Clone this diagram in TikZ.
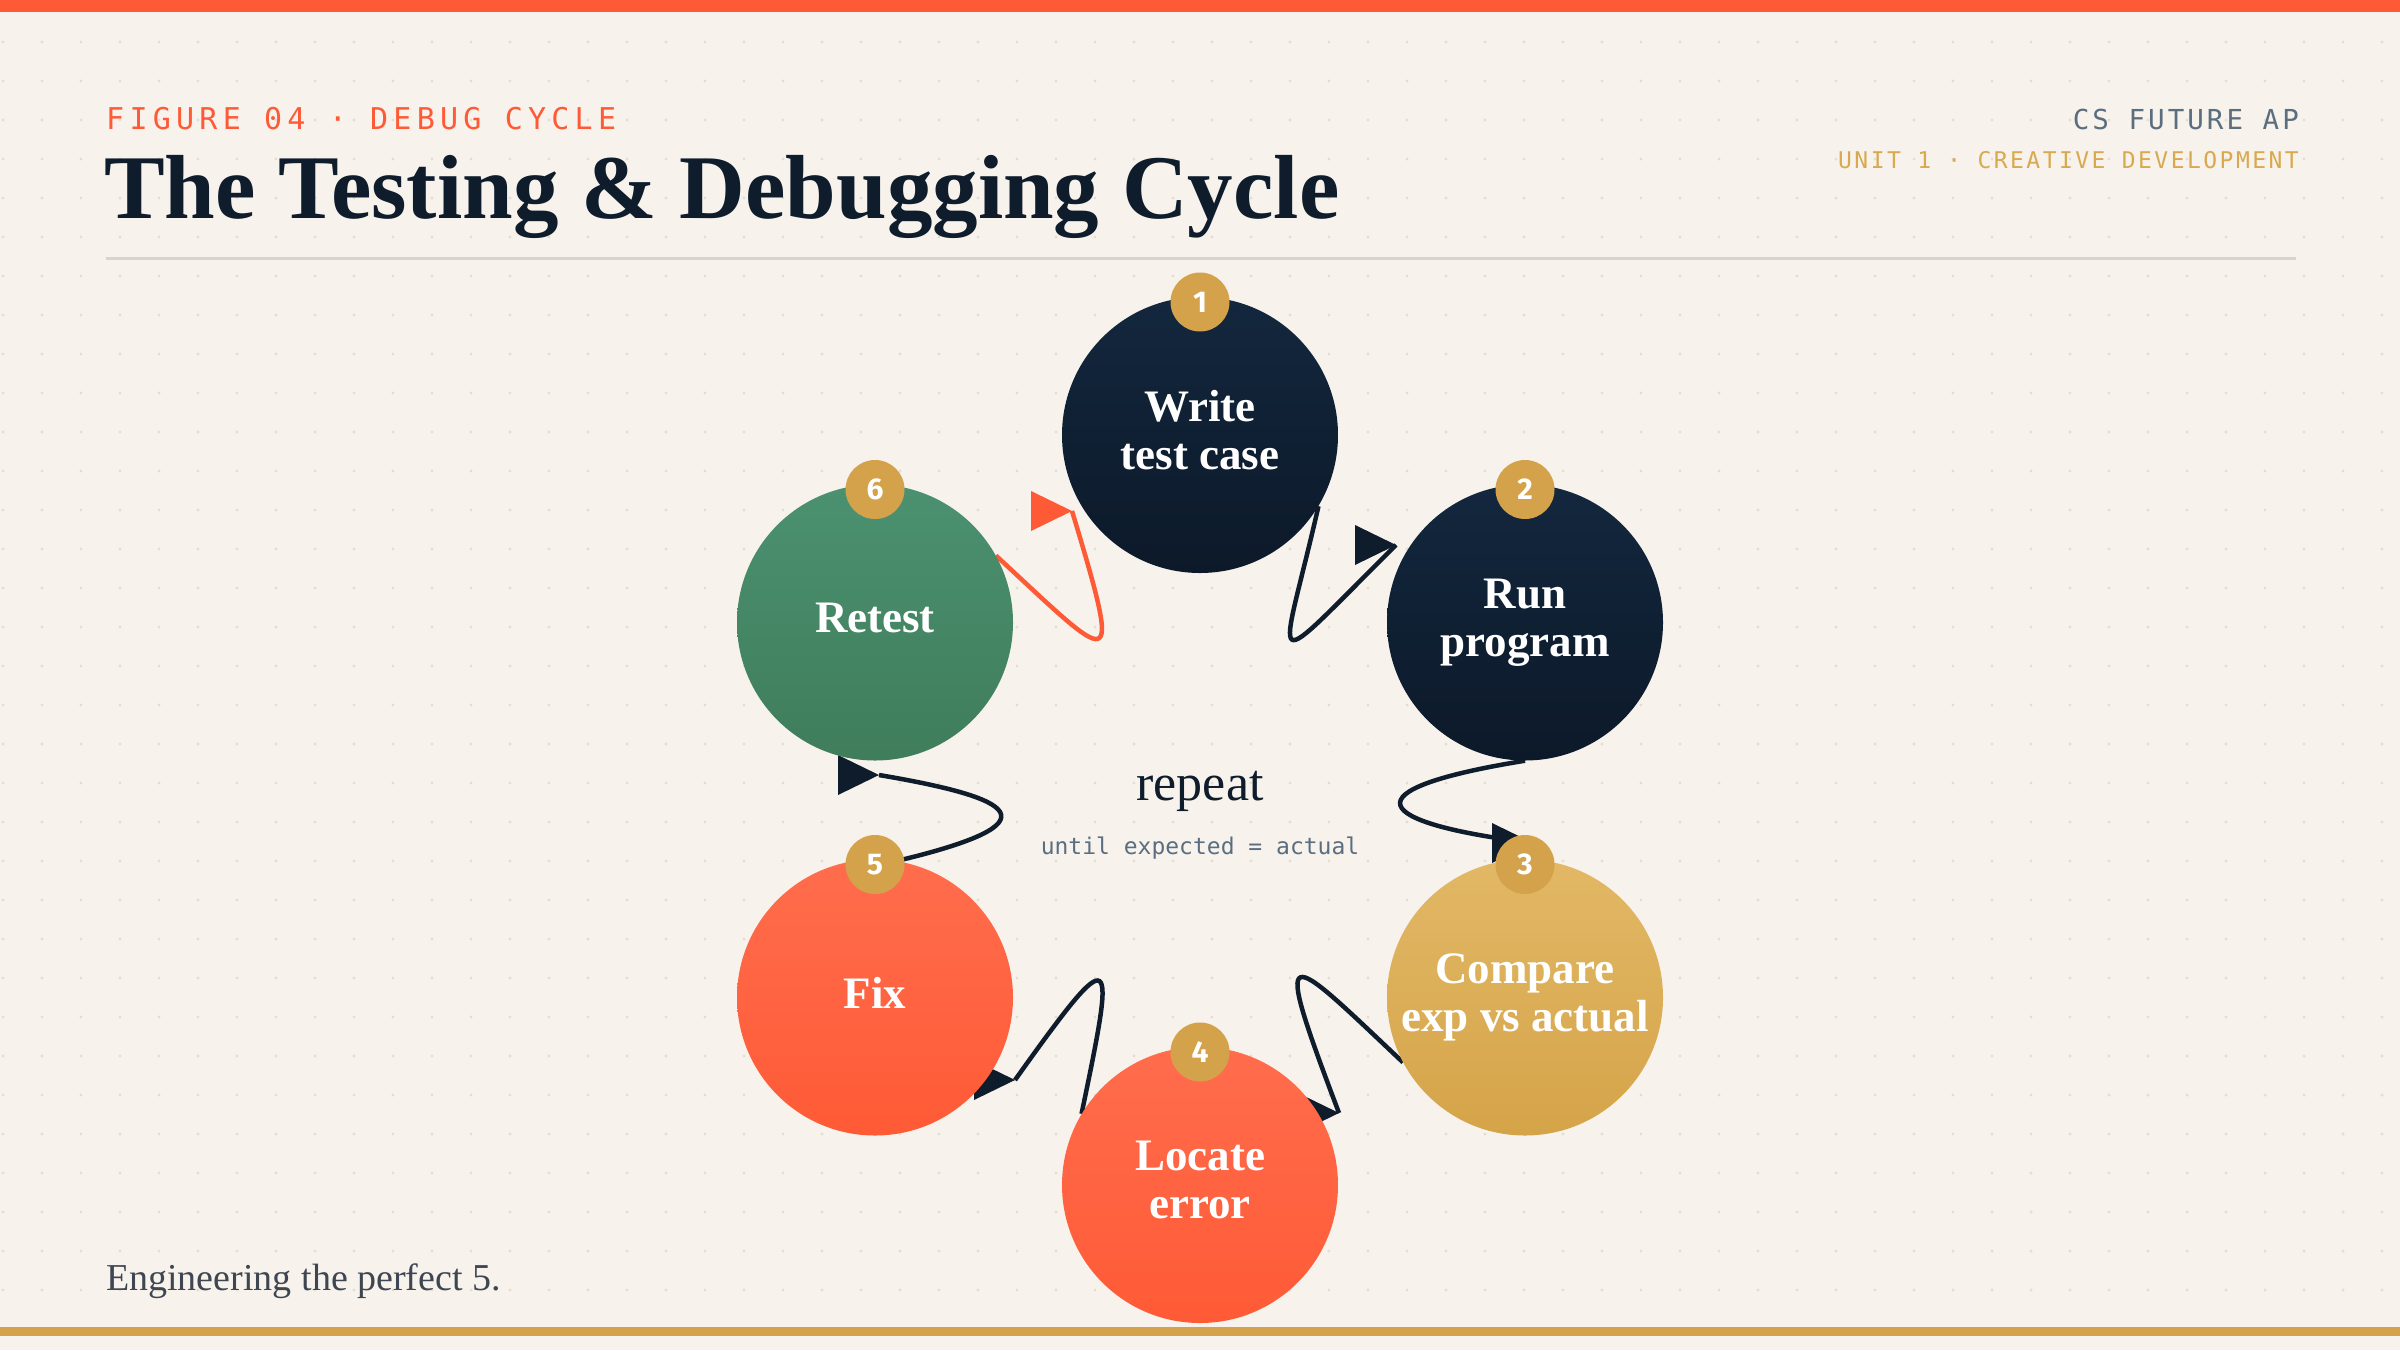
\documentclass[tikz,border=0pt]{standalone}
\usepackage{fontspec}
\setmainfont{Liberation Serif}
\newfontfamily\figfont[LetterSpace=17.5]{DejaVu Sans Mono}
\newfontfamily\csfont[LetterSpace=11]{DejaVu Sans Mono}
\newfontfamily\unitfont[LetterSpace=10.7]{DejaVu Sans Mono}
\newfontfamily\untilfont{DejaVu Sans Mono}
\newfontfamily\badgefont{Fira Sans}
\usetikzlibrary{calc}
\definecolor{bg}{HTML}{F7F2EB}
\definecolor{dotc}{HTML}{E4DDD2}
\definecolor{coral}{HTML}{FF5A36}
\definecolor{gold}{HTML}{D4A24A}
\definecolor{unitgold}{HTML}{D9A94F}
\definecolor{navy}{HTML}{0E1C2C}
\definecolor{slate}{HTML}{5A6E80}
\definecolor{rulec}{HTML}{D9D5CE}
\definecolor{footc}{HTML}{3E4652}
\definecolor{darktop}{HTML}{13273E}
\definecolor{darkbot}{HTML}{0C1929}
\definecolor{greentop}{HTML}{4B9170}
\definecolor{greenbot}{HTML}{3F7D5B}
\definecolor{goldtop}{HTML}{E2B866}
\definecolor{goldbot}{HTML}{D5A449}
\definecolor{coraltop}{HTML}{FF6D4D}
\definecolor{coralbot}{HTML}{FF5A36}
\pgfdeclarelayer{backlayer}
\pgfdeclarelayer{linklayer}
\pgfsetlayers{backlayer,linklayer,main}
\tikzset{
  stepnode/.style={circle, minimum size=276pt, inner sep=0pt, text=white,
    font=\bfseries\fontsize{45}{48}\selectfont, align=center},
  darkstep/.style={stepnode, top color=darktop, bottom color=darkbot},
  greenstep/.style={stepnode, top color=greentop, bottom color=greenbot},
  goldstep/.style={stepnode, top color=goldtop, bottom color=goldbot},
  coralstep/.style={stepnode, top color=coraltop, bottom color=coralbot},
  badge/.style={circle, fill=gold, minimum size=59pt, inner sep=0pt, text=white,
    font=\badgefont\bfseries\fontsize{30}{30}\selectfont},
  link/.style={draw=navy, line width=4.5pt},
  hotlink/.style={draw=coral, line width=4.5pt},
  tip/.style={fill=navy},
  hottip/.style={fill=coral},
  plain/.style={inner sep=0pt}
}
\begin{document}
\begin{tikzpicture}[x=1pt,y=-1pt]
\useasboundingbox (0,0) rectangle (2400,1350);
\begin{pgfonlayer}{backlayer}
\fill[bg] (0,0) rectangle (2400,1350);
\fill[dotc] \foreach \i in {0,...,61}{\foreach \j in {0,...,34}{(3+39*\i,3+39*\j) circle[radius=1.7]}};
\fill[coral] (0,0) rectangle (2400,12);
\fill[gold] (0,1327) rectangle (2400,1336);
\draw[rulec, line width=3pt] (106,258) -- (2296,258);
\end{pgfonlayer}

% header
\node[plain, anchor=base west, text=coral, font=\figfont\fontsize{30}{30}\selectfont] (fig) at (106,129) {FIGURE 04 · DEBUG CYCLE};
\node[plain, anchor=base west, text=navy, font=\bfseries\fontsize{91}{100}\selectfont] (title) at (104,218) {The Testing \& Debugging Cycle};
\node[plain, anchor=base east, text=slate, font=\csfont\fontsize{27.5}{30}\selectfont] (cs) at (2299,129) {CS FUTURE AP};
\node[plain, anchor=base east, text=unitgold, font=\unitfont\fontsize{23}{26}\selectfont] (unit) at (2299,168) {UNIT 1 · CREATIVE DEVELOPMENT};
\node[plain, anchor=base west, text=footc, font=\fontsize{38}{40}\selectfont] (foot) at (106,1290) {Engineering the perfect 5.};

% center
\node[plain, anchor=base, text=navy, font=\fontsize{52}{56}\selectfont] (rep) at (1200,800) {repeat};
\node[plain, anchor=base, text=slate, font=\untilfont\fontsize{23}{26}\selectfont] (until) at (1200,854) {until expected = actual};

% steps
\node[darkstep] (c1) at (1200,435) {Write\\test case\vphantom{g}};
\node[darkstep] (c2) at (1525,622.5) {Run\\program};
\node[goldstep] (c3) at (1525,997.5) {Compare\\exp vs actual};
\node[coralstep] (c4) at (1200,1185) {Locate\\error\vphantom{g}};
\node[coralstep] (c5) at (875,997.5) {Fix\vphantom{g}};
\node[greenstep] (c6) at (875,622.5) {Retest\vphantom{g}};

% badges
\node[badge] (b1) at ($(c1)+(0,-133)$) {1};
\node[badge] (b2) at ($(c2)+(0,-133)$) {2};
\node[badge] (b3) at ($(c3)+(0,-133)$) {3};
\node[badge] (b4) at ($(c4)+(0,-133)$) {4};
\node[badge] (b5) at ($(c5)+(0,-133)$) {5};
\node[badge] (b6) at ($(c6)+(0,-133)$) {6};

% connector ends
\coordinate (e12) at ($(c2)+(-129,-77.5)$);
\coordinate (e23) at ($(c3)+(8,-154.5)$);
\coordinate (e34) at ($(c4)+(139,-72)$);
\coordinate (e45) at ($(c5)+(140,82.5)$);
\coordinate (e56) at ($(c6)+(4,152.5)$);
\coordinate (e61) at ($(c1)+(-128,76)$);

\begin{pgfonlayer}{linklayer}
\draw[link] (c1.-31) .. controls (1280,675) and (1260,680) .. (e12);
\fill[tip] (e12) -- ++(-41,-20) -- ++(0,40) -- cycle;
\draw[link] (c2.south) .. controls (1344,790) and (1371,823) .. (e23);
\fill[tip] (e23) -- ++(-41,-20) -- ++(0,40) -- cycle;
\draw[link] (c3.208) .. controls (1284,950) and (1270,931) .. (e34);
\fill[tip] (e34) -- ++(-41,-20) -- ++(0,40) -- cycle;
\draw[link] (c4.149) .. controls (1116,948) and (1117,937) .. (e45);
\fill[tip] (e45) -- ++(-41,-20) -- ++(0,40) -- cycle;
\draw[link] (c5.81) .. controls (1060,822) and (1015,798) .. (e56);
\fill[tip] (e56) -- ++(-41,-20) -- ++(0,40) -- cycle;
\draw[hotlink] (c6.29) .. controls (1114,665) and (1124,683) .. (e61);
\fill[hottip] (e61) -- ++(-41,-20) -- ++(0,40) -- cycle;
\end{pgfonlayer}
\end{tikzpicture}
\end{document}
